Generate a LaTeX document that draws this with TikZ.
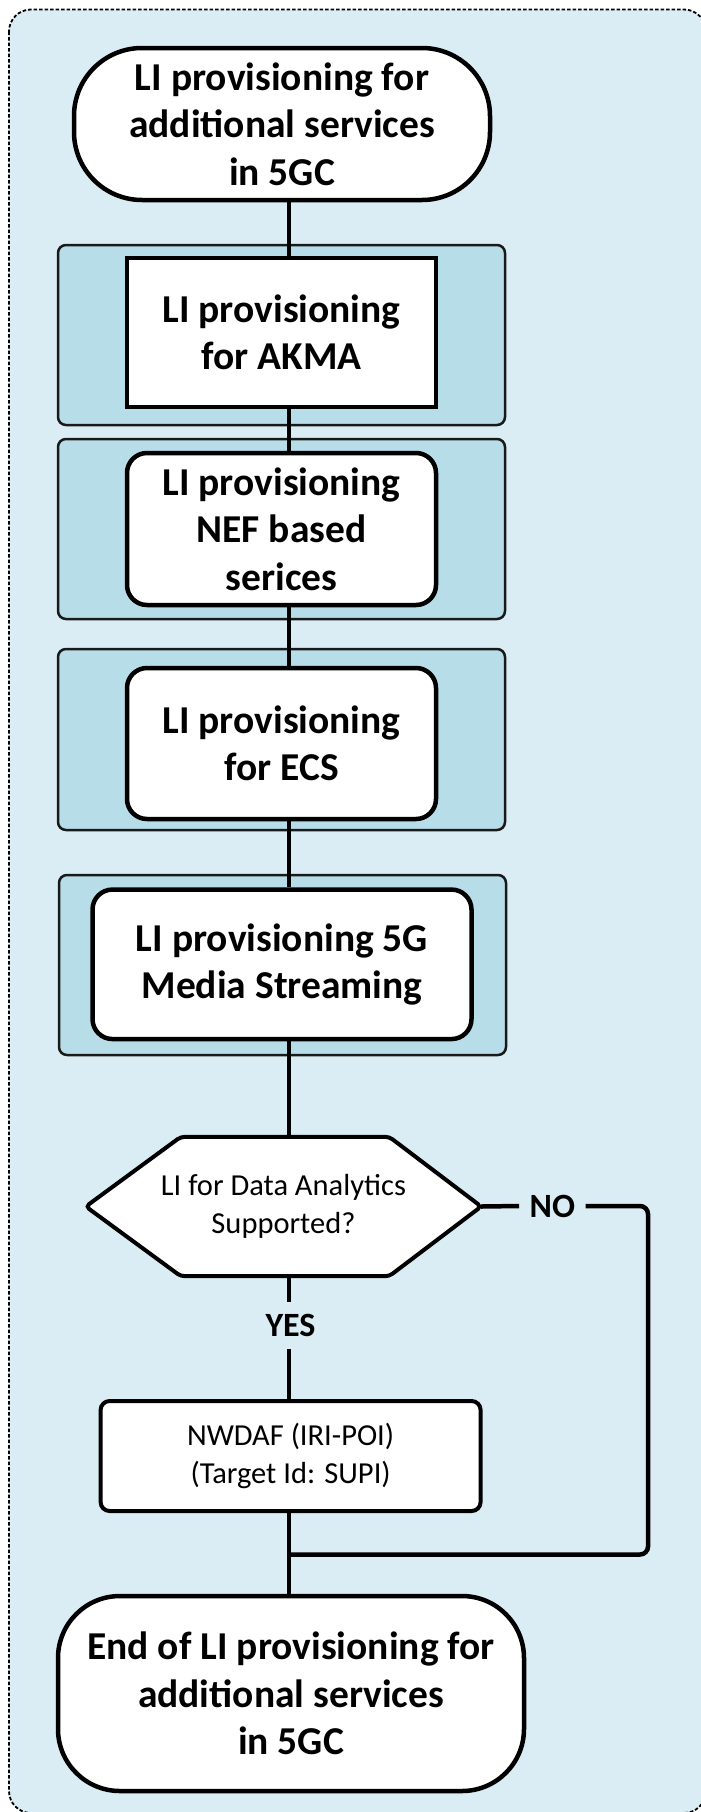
\documentclass[tikz,border=0pt]{standalone}
\usepackage{fontspec}
\setmainfont{Carlito}
\usetikzlibrary{calc}
\definecolor{bgblue}{HTML}{DAEDF4}
\definecolor{grpblue}{HTML}{B7DDE8}
\newcommand{\bigbold}{\fontsize{39.5}{47.5}\selectfont\bfseries}
\newcommand{\smallreg}{\fontsize{30.5}{37.7}\selectfont}
\newcommand{\lblbold}{\fontsize{34}{40}\selectfont\bfseries}
\begin{document}
\begin{tikzpicture}[x=1pt,y=-1pt,
  outerbox/.style={draw=black, fill=bgblue, line width=1.8, dash pattern=on 3.5pt off 2pt, rounded corners=22},
  grpbox/.style={draw=black!90, fill=grpblue, line width=2.5, rounded corners=8, inner sep=0},
  termbox/.style={draw, fill=white, line width=4.5, rounded corners=68, align=center, font=\bigbold, inner sep=0},
  sqbox/.style={draw, fill=white, line width=4.5, align=center, font=\bigbold, inner sep=0},
  rbox/.style={draw, fill=white, line width=4.5, rounded corners=20, align=center, font=\bigbold, inner sep=0},
  smallbox/.style={draw, fill=white, line width=4, rounded corners=9, align=center, font=\smallreg, inner sep=0},
  hexline/.style={draw, fill=white, line width=4, rounded corners=4},
  lbl/.style={font=\lblbold, inner sep=0},
  conn/.style={draw, line width=4.5}
]
\useasboundingbox (0,0) rectangle (701,1812);
\begin{scope}
\clip (0,0) rectangle (701,1812);
\path[outerbox] (9,9.5) rectangle (706,1813);
\end{scope}

% group boxes
\node[grpbox, minimum width=447, minimum height=180] (g1) at (281.5,335) {};
\node[grpbox, minimum width=447, minimum height=180] (g2) at (281.5,529) {};
\node[grpbox, minimum width=447, minimum height=181] (g3) at (281.5,739.5) {};
\node[grpbox, minimum width=447, minimum height=180] (g4) at (282.5,965) {};

% main nodes
\node[termbox, minimum width=416, minimum height=152] (start) at (282,124)
  {LI provisioning for\\additional services\\in 5GC};
\node[sqbox, minimum width=309, minimum height=149] (akma) at (281.5,332.5)
  {LI provisioning\\for AKMA};
\node[rbox, minimum width=309, minimum height=152] (nef) at (281.5,529)
  {LI provisioning\\NEF based\\serices};
\node[rbox, minimum width=309, minimum height=151] (ecs) at (281.5,743.5)
  {LI provisioning\\for ECS};
\node[rbox, minimum width=379, minimum height=149.5] (ms) at (282,964.3)
  {LI provisioning 5G\\Media Streaming};

% decision
\node[inner sep=0, minimum width=395, minimum height=139] (hex) at (283.5,1206.5) {};
\path[hexline] (hex.west) -- ($(hex.north west)+(95,0)$) -- ($(hex.north east)+(-92,0)$)
  -- (hex.east) -- ($(hex.south east)+(-92,0)$) -- ($(hex.south west)+(95,0)$) -- cycle;
\node[align=center, font=\smallreg, inner sep=0] (hextext) at (hex.center) {LI for Data Analytics\\Supported?};

\node[lbl, minimum height=47] (yes) at (290.5,1325.5) {YES};
\node[lbl, minimum width=66] (no) at (552.3,1206) {NO};

\node[smallbox, minimum width=380, minimum height=110] (nwdaf) at (290.6,1456)
  {NWDAF (IRI-POI)\\(Target Id: SUPI)};

\node[termbox, rounded corners=62, minimum width=466, minimum height=195] (endt) at (291,1693.5)
  {End of LI provisioning for\\additional services\\in 5GC};

% connectors
\coordinate (colx) at (289,0);
\coordinate (rightx) at (648,1554.5);
\coordinate (merge) at (289,1554.5);
\draw[conn] (start.south -| colx) -- (akma.north -| colx);
\draw[conn] (akma.south -| colx) -- (nef.north -| colx);
\draw[conn] (nef.south -| colx) -- (ecs.north -| colx);
\draw[conn] (ecs.south -| colx) -- (ms.north -| colx);
\draw[conn] (ms.south -| colx) -- (hex.north -| colx);
\draw[conn] (hex.south -| colx) -- (yes.north -| colx);
\draw[conn] (yes.south -| colx) -- (nwdaf.north -| colx);
\draw[conn] (nwdaf.south -| colx) -- (endt.north -| colx);
\draw[conn] (hex.east) -- (no.west);
\draw[conn, rounded corners=8] (no.east) -- (no.east -| rightx) -- (rightx) -- (merge);
\end{tikzpicture}
\end{document}
